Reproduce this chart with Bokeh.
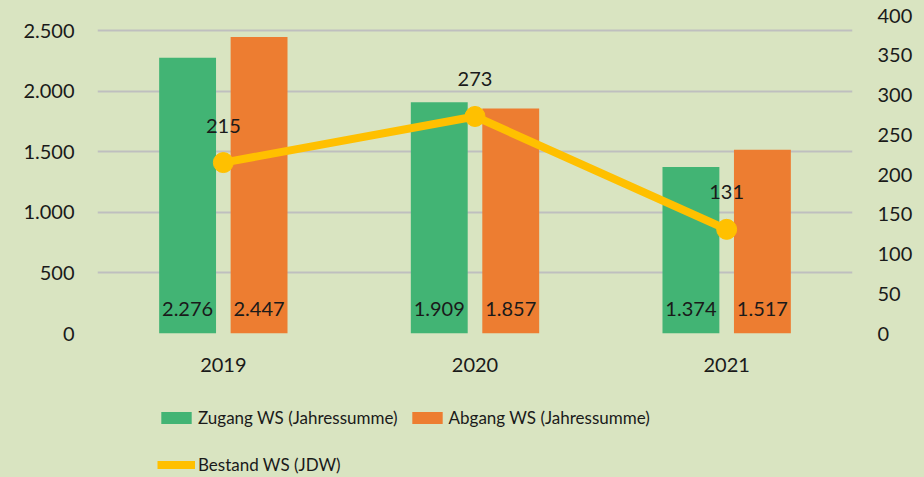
from bokeh.plotting import figure
from bokeh.layouts import column
from bokeh.models import (ColumnDataSource, FactorRange, Range1d, LinearAxis, FixedTicker,
                          Legend, LegendItem)
from bokeh.transform import dodge
from bokeh.core.properties import value
from bokeh.embed import file_html
from bokeh.resources import INLINE

years = ["2019", "2020", "2021"]
zugang = [2276, 1909, 1374]
abgang = [2447, 1857, 1517]
bestand = [215, 273, 131]
left_ticks = [0, 500, 1000, 1500, 2000, 2500]
left_tick_labels = ["0", "500", "1.000", "1.500", "2.000", "2.500"]
right_ticks = [0, 50, 100, 150, 200, 250, 300, 350, 400]
series_names = ["Zugang WS (Jahressumme)", "Abgang WS (Jahressumme)", "Bestand WS (JDW)"]

def de(v):
    return f"{v:,}".replace(",", ".")

BG = "#D9E4C1"
GREEN = "#42B474"
ORANGE = "#ED7D31"
YELLOW = "#FFC000"
FONT = "Lato"
TXT = "#1a1a1a"

src = ColumnDataSource(dict(
    year=years, zugang=zugang, abgang=abgang, bestand=bestand,
    zl=[de(v) for v in zugang], al=[de(v) for v in abgang],
    bl=[str(v) for v in bestand], zero=[0] * len(years),
))

p = figure(x_range=FactorRange(factors=years, range_padding=0),
           y_range=Range1d(0, 2624), width=924, height=385,
           output_backend="svg", toolbar_location=None,
           min_border_left=97, min_border_right=72, min_border_top=15,
           min_border_bottom=52, styles={"background-color": BG})
p.extra_y_ranges = {"right": Range1d(0, 400)}

p.background_fill_color = BG
p.border_fill_color = BG
p.outline_line_color = None

p.xgrid.grid_line_color = None
p.ygrid.ticker = FixedTicker(ticks=left_ticks)
p.ygrid.grid_line_color = "#BFBFBF"
p.ygrid.grid_line_width = 2

for ax in [p.xaxis[0], p.yaxis[0]]:
    ax.axis_line_color = None
    ax.major_tick_line_color = None
    ax.minor_tick_line_color = None
    ax.major_label_text_font = FONT
    ax.major_label_text_font_size = "20px"
    ax.major_label_text_color = TXT

p.yaxis[0].ticker = FixedTicker(ticks=left_ticks)
p.yaxis[0].major_label_overrides = {t: l for t, l in zip(left_ticks, left_tick_labels)}
p.yaxis[0].major_label_standoff = 17
p.xaxis[0].major_label_standoff = 18

rax = LinearAxis(y_range_name="right", ticker=FixedTicker(ticks=right_ticks))
rax.axis_line_color = None
rax.major_tick_line_color = None
rax.minor_tick_line_color = None
rax.major_label_text_font = FONT
rax.major_label_text_font_size = "20px"
rax.major_label_text_color = TXT
rax.major_label_standoff = 19
p.add_layout(rax, "right")

p.vbar(x=dodge("year", -0.142, range=p.x_range), top="zugang", width=0.226,
       source=src, fill_color=GREEN, line_color=None)
p.vbar(x=dodge("year", 0.142, range=p.x_range), top="abgang", width=0.226,
       source=src, fill_color=ORANGE, line_color=None)

for off, col in [(-0.142, "zl"), (0.142, "al")]:
    p.text(x=dodge("year", off, range=p.x_range), y="zero", text=col, source=src,
           y_offset=-25, text_align="center", text_baseline="middle",
           text_font=value(FONT), text_font_size="20px", text_color=TXT)

p.line(x="year", y="bestand", source=src, y_range_name="right",
       line_color=YELLOW, line_width=8)
p.scatter(x="year", y="bestand", source=src, y_range_name="right",
          size=20, fill_color=YELLOW, line_color=YELLOW)
p.text(x="year", y="bestand", text="bl", source=src, y_range_name="right",
       y_offset=-37, text_align="center", text_baseline="middle",
       text_font=value(FONT), text_font_size="20px", text_color=TXT)

# legend panel (separate figure so the legend is not clipped by the chart frame)
q = figure(width=924, height=92, x_range=Range1d(0, 1), y_range=Range1d(0, 1),
           output_backend="svg", toolbar_location=None,
           x_axis_location=None, y_axis_location=None,
           min_border_left=0, min_border_right=0, min_border_top=0, min_border_bottom=0,
           styles={"background-color": BG})
q.background_fill_color = BG
q.border_fill_color = BG
q.outline_line_color = None
q.grid.grid_line_color = None

# legend-only renderers: their points lie outside the visible range
hidden = ColumnDataSource(dict(x=[-5, -6], y=[-5, -6]))
lz = q.vbar(x="x", top="y", width=1, source=hidden, fill_color=GREEN, line_color=None)
la = q.vbar(x="x", top="y", width=1, source=hidden, fill_color=ORANGE, line_color=None)
ll = q.line(x="x", y="y", source=hidden, line_color=YELLOW, line_width=8)
ls = q.scatter(x="x", y="y", source=hidden, size=14, fill_color=YELLOW, line_color=YELLOW)

legend = Legend(items=[
    LegendItem(label=series_names[0], renderers=[lz]),
    LegendItem(label=series_names[1], renderers=[la]),
    LegendItem(label=series_names[2], renderers=[ll, ls]),
], location=(60, -6), orientation="horizontal", ncols=2)
legend.background_fill_alpha = 0
legend.border_line_color = None
legend.padding = 0
legend.margin = 0
legend.spacing = 10
legend.glyph_width = 38
legend.glyph_height = 15
legend.label_height = 37
legend.label_standoff = 3
legend.label_text_font = FONT
legend.label_text_font_size = "17px"
legend.label_text_color = TXT
q.add_layout(legend, "center")

layout = column(p, q, spacing=0, styles={"background-color": BG})
open("out.html", "w").write(file_html(layout, INLINE))
